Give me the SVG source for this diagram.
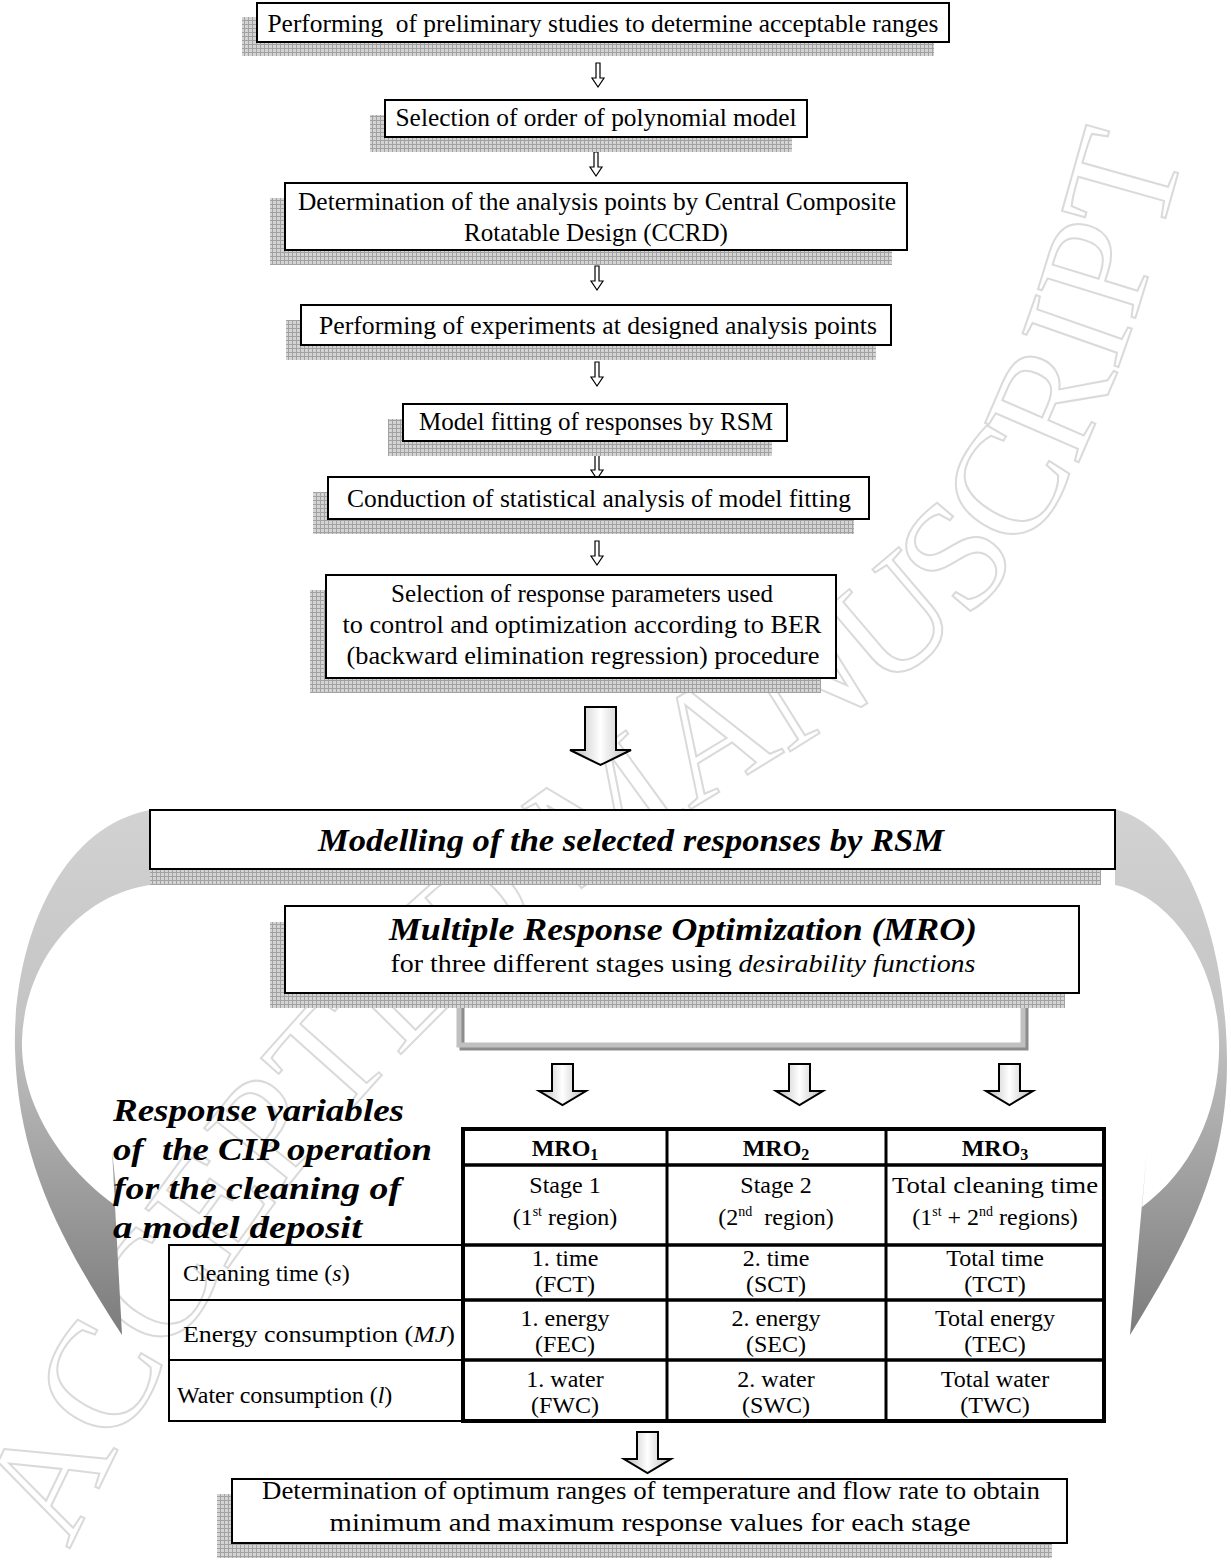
<svg xmlns="http://www.w3.org/2000/svg" width="1231" height="1561" viewBox="0 0 1231 1561">
<defs>
<pattern id="grid" width="4" height="4" patternUnits="userSpaceOnUse">
<rect width="4" height="4" fill="#d4d4d4"/>
<path d="M0,0.5H4M0.5,0V4" stroke="#a2a2a2" stroke-width="1"/>
</pattern>
<linearGradient id="arrowFill" x1="0" y1="0" x2="1" y2="0">
<stop offset="0" stop-color="#b8b8b8"/>
<stop offset="0.5" stop-color="#ffffff"/>
<stop offset="1" stop-color="#b8b8b8"/>
</linearGradient>
<linearGradient id="curveFill" x1="0" y1="810" x2="0" y2="1335" gradientUnits="userSpaceOnUse">
<stop offset="0" stop-color="#d2d2d2"/>
<stop offset="0.4" stop-color="#c4c4c4"/>
<stop offset="1" stop-color="#7c7c7c"/>
</linearGradient>
<style>
.box{fill:#fff;stroke:#000;stroke-width:2}
.shadow{fill:url(#grid)}
.t{font-family:"Liberation Serif","Times New Roman",serif;font-size:25px;fill:#000;text-anchor:middle}
.bi{font-family:"Liberation Serif","Times New Roman",serif;font-style:italic;font-weight:bold;fill:#000}
.cell{font-family:"Liberation Serif","Times New Roman",serif;font-size:24px;fill:#000;text-anchor:middle}
.lab{font-family:"Liberation Serif","Times New Roman",serif;font-size:24px;fill:#000}
.small{fill:#fff;stroke:#000;stroke-width:1.2}
.big{fill:url(#arrowFill);stroke:#000;stroke-width:2;stroke-linejoin:miter}
.wm{font-family:"Liberation Serif","Times New Roman",serif;font-size:155px;fill:none;stroke:#dadada;stroke-width:2}
</style>
</defs>
<rect width="1231" height="1561" fill="#fff"/>

<g id="watermark">
<path id="wmPath" d="M 70,1550 C 240,1170 520,900 790,750 S 1110,420 1190,130" fill="none"/>
<text class="wm"><textPath href="#wmPath">ACCEPTED MANUSCRIPT</textPath></text>
</g>

<g id="connectors">
<path id="curve-left" d="M 150,810 C 55,828 12,950 15,1050 C 18,1160 60,1240 122,1335 L 112,1150 L 118,1207 C 70,1175 20,1110 22,1040 C 25,960 80,895 150,885 Z" fill="url(#curveFill)"/>
<path id="curve-right" d="M 1115,809 C 1192,830 1226,950 1227,1060 C 1228,1170 1185,1245 1130,1335 L 1147,1150 L 1142,1207 C 1192,1170 1221,1110 1219,1040 C 1217,960 1168,895 1115,885 Z" fill="url(#curveFill)"/>
<path class="small" d="M596,63 h4 v15 h4 l-6,9 l-6,-9 h4 z"/>
<path class="small" d="M594,152 h4 v15 h4 l-6,9 l-6,-9 h4 z"/>
<path class="small" d="M595,266 h4 v15 h4 l-6,9 l-6,-9 h4 z"/>
<path class="small" d="M595,362 h4 v15 h4 l-6,9 l-6,-9 h4 z"/>
<path class="small" d="M595,455 h4 v15 h4 l-6,9 l-6,-9 h4 z"/>
<path class="small" d="M595,541 h4 v15 h4 l-6,9 l-6,-9 h4 z"/>
<path class="big" d="M585,707 h31 v43 h15 l-30.5,15 l-30.5,-15 h15 z"/>
<path d="M462,1008 V1048 H1026 V1008" fill="none" stroke="#8c8c8c" stroke-width="5"/>
<path d="M459,1008 V1045 H1023 V1008" fill="none" stroke="#c0c0c0" stroke-width="5"/>
<path class="big" d="M552,1064 h21 v27 h13 l-23.5,14 l-23.5,-14 h13 z"/>
<path class="big" d="M789,1064 h21 v27 h13 l-23.5,14 l-23.5,-14 h13 z"/>
<path class="big" d="M999,1064 h21 v27 h13 l-23.5,14 l-23.5,-14 h13 z"/>
<path class="big" d="M637,1432 h21 v27 h13 l-23.5,14 l-23.5,-14 h13 z"/>
</g>

<g id="n1">
<rect class="shadow" x="242" y="17" width="692" height="39"/>
<rect class="box" x="257" y="3" width="692" height="39"/>
<text class="t" x="603" y="32" textLength="671" lengthAdjust="spacingAndGlyphs" xml:space="preserve">Performing  of preliminary studies to determine acceptable ranges</text>
</g>
<g id="n2">
<rect class="shadow" x="370" y="115" width="422" height="37"/>
<rect class="box" x="385" y="100" width="422" height="37"/>
<text class="t" x="596" y="126" textLength="401" lengthAdjust="spacingAndGlyphs">Selection of order of polynomial model</text>
</g>
<g id="n3">
<rect class="shadow" x="270" y="198" width="622" height="67"/>
<rect class="box" x="285" y="183" width="622" height="67"/>
<text class="t" x="597" y="210" textLength="598" lengthAdjust="spacingAndGlyphs">Determination of the analysis points by Central Composite</text>
<text class="t" x="596" y="241">Rotatable Design (CCRD)</text>
</g>
<g id="n4">
<rect class="shadow" x="286" y="320" width="590" height="40"/>
<rect class="box" x="301" y="305" width="590" height="40"/>
<text class="t" x="598" y="334" textLength="558" lengthAdjust="spacingAndGlyphs">Performing of experiments at designed analysis points</text>
</g>
<g id="n5">
<rect class="shadow" x="388" y="419" width="384" height="37"/>
<rect class="box" x="403" y="404" width="384" height="37"/>
<text class="t" x="596" y="430" textLength="354" lengthAdjust="spacingAndGlyphs">Model fitting of responses by RSM</text>
</g>
<g id="n6">
<rect class="shadow" x="313" y="492" width="541" height="42"/>
<rect class="box" x="328" y="477" width="541" height="42"/>
<text class="t" x="599" y="507" textLength="504" lengthAdjust="spacingAndGlyphs">Conduction of statistical analysis of model fitting</text>
</g>
<g id="n7">
<rect class="shadow" x="310" y="590" width="511" height="103"/>
<rect class="box" x="326" y="575" width="510" height="103"/>
<text class="t" x="582" y="602">Selection of response parameters used</text>
<text class="t" x="582" y="633" textLength="479" lengthAdjust="spacingAndGlyphs">to control and optimization according to BER</text>
<text class="t" x="583" y="664" textLength="473" lengthAdjust="spacingAndGlyphs">(backward elimination regression) procedure</text>
</g>
<g id="n8">
<rect class="shadow" x="150" y="868" width="951" height="17"/>
<rect class="box" x="150" y="810" width="965" height="59"/>
<text class="bi" x="631" y="851" font-size="32" text-anchor="middle" textLength="626" lengthAdjust="spacingAndGlyphs">Modelling of the selected responses by RSM</text>
</g>
<g id="n9">
<rect class="shadow" x="270" y="922" width="795" height="86"/>
<rect class="box" x="285" y="906" width="794" height="87"/>
<text class="bi" x="683" y="940" font-size="32" text-anchor="middle" textLength="588" lengthAdjust="spacingAndGlyphs">Multiple Response Optimization (MRO)</text>
<text class="t" x="683" y="972" textLength="585" lengthAdjust="spacingAndGlyphs">for three different stages using <tspan font-style="italic">desirability functions</tspan></text>
</g>

<g id="responses-label">
<text class="bi" x="113" y="1121" font-size="32" textLength="291" lengthAdjust="spacingAndGlyphs">Response variables</text>
<text class="bi" x="113" y="1160" font-size="32" textLength="319" lengthAdjust="spacingAndGlyphs" xml:space="preserve">of  the CIP operation</text>
<text class="bi" x="113" y="1199" font-size="32" textLength="288" lengthAdjust="spacingAndGlyphs">for the cleaning of</text>
<text class="bi" x="113" y="1238" font-size="32" textLength="249" lengthAdjust="spacingAndGlyphs">a model deposit</text>
</g>

<g id="table">
<rect x="169" y="1245" width="294" height="176" fill="none" stroke="#000" stroke-width="2"/>
<path d="M169,1300 H463 M169,1360 H463" stroke="#000" stroke-width="2"/>
<rect x="463" y="1129" width="641" height="292" fill="none" stroke="#000" stroke-width="4"/>
<path d="M463,1165 H1104 M463,1245 H1104 M463,1300 H1104 M463,1360 H1104" stroke="#000" stroke-width="3.5"/>
<path d="M667,1129 V1421 M886,1129 V1421" stroke="#000" stroke-width="3"/>
<text class="cell" x="565" y="1156" font-weight="bold">MRO<tspan font-size="16" dy="4">1</tspan></text>
<text class="cell" x="776" y="1156" font-weight="bold">MRO<tspan font-size="16" dy="4">2</tspan></text>
<text class="cell" x="995" y="1156" font-weight="bold">MRO<tspan font-size="16" dy="4">3</tspan></text>
<text class="cell" x="565" y="1193">Stage 1</text>
<text class="cell" x="565" y="1225">(1<tspan font-size="14" dy="-9">st</tspan><tspan dy="9"> region)</tspan></text>
<text class="cell" x="776" y="1193">Stage 2</text>
<text class="cell" x="776" y="1225" xml:space="preserve">(2<tspan font-size="14" dy="-9">nd</tspan><tspan dy="9">  region)</tspan></text>
<text class="cell" x="995" y="1193" textLength="206" lengthAdjust="spacingAndGlyphs">Total cleaning time</text>
<text class="cell" x="995" y="1225">(1<tspan font-size="14" dy="-9">st</tspan><tspan dy="9"> + 2</tspan><tspan font-size="14" dy="-9">nd</tspan><tspan dy="9"> regions)</tspan></text>
<text class="lab" x="183" y="1281">Cleaning time (<tspan font-style="italic">s</tspan>)</text>
<text class="cell" x="565" y="1266">1. time</text>
<text class="cell" x="565" y="1292">(FCT)</text>
<text class="cell" x="776" y="1266">2. time</text>
<text class="cell" x="776" y="1292">(SCT)</text>
<text class="cell" x="995" y="1266">Total time</text>
<text class="cell" x="995" y="1292">(TCT)</text>
<text class="lab" x="183" y="1342" textLength="272" lengthAdjust="spacingAndGlyphs">Energy consumption (<tspan font-style="italic">MJ</tspan>)</text>
<text class="cell" x="565" y="1326">1. energy</text>
<text class="cell" x="565" y="1352">(FEC)</text>
<text class="cell" x="776" y="1326">2. energy</text>
<text class="cell" x="776" y="1352">(SEC)</text>
<text class="cell" x="995" y="1326">Total energy</text>
<text class="cell" x="995" y="1352">(TEC)</text>
<text class="lab" x="177" y="1403">Water consumption (<tspan font-style="italic">l</tspan>)</text>
<text class="cell" x="565" y="1387">1. water</text>
<text class="cell" x="565" y="1413">(FWC)</text>
<text class="cell" x="776" y="1387">2. water</text>
<text class="cell" x="776" y="1413">(SWC)</text>
<text class="cell" x="995" y="1387">Total water</text>
<text class="cell" x="995" y="1413">(TWC)</text>
</g>

<g id="n10">
<rect class="shadow" x="217" y="1494" width="835" height="64"/>
<rect class="box" x="232" y="1479" width="835" height="64"/>
<text class="t" x="651" y="1499" textLength="778" lengthAdjust="spacingAndGlyphs">Determination of optimum ranges of temperature and flow rate to obtain</text>
<text class="t" x="650" y="1531" textLength="641" lengthAdjust="spacingAndGlyphs">minimum and maximum response values for each stage</text>
</g>
</svg>
